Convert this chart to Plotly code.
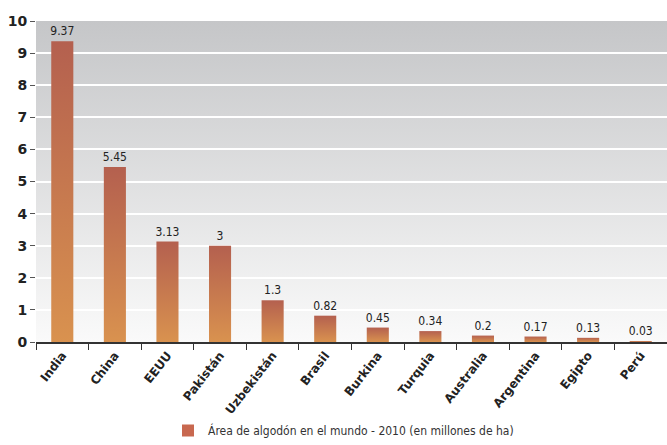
import base64

import plotly.graph_objects as go

# Área de algodón en el mundo - 2010 (millones de ha)
paises = ["India", "China", "EEUU", "Pakistán", "Uzbekistán", "Brasil",
          "Burkina", "Turquia", "Australia", "Argentina", "Egipto", "Perú"]
area = [9.37, 5.45, 3.13, 3, 1.3, 0.82, 0.45, 0.34, 0.2, 0.17, 0.13, 0.03]
etiquetas = ["9.37", "5.45", "3.13", "3", "1.3", "0.82", "0.45", "0.34",
             "0.2", "0.17", "0.13", "0.03"]

COLORS = {
    "bar_top": "#b4604f",
    "bar_bottom": "#d9924f",
    "bg_top": "#c5c6c8",
    "bg_bottom": "#fafafa",
    "text": "#222222",
    "legend": "#c8684f",
}

# vertical grey gradient behind the plot area
bg_svg = (
    '<svg xmlns="http://www.w3.org/2000/svg" width="10" height="100" preserveAspectRatio="none">'
    '<defs><linearGradient id="g" x1="0" y1="0" x2="0" y2="1">'
    f'<stop offset="0" stop-color="{COLORS["bg_top"]}"/>'
    f'<stop offset="1" stop-color="{COLORS["bg_bottom"]}"/>'
    '</linearGradient></defs><rect width="10" height="100" fill="url(#g)"/></svg>'
)
bg_uri = "data:image/svg+xml;base64," + base64.b64encode(bg_svg.encode()).decode()

NARROW = "DejaVu Sans Condensed, Liberation Sans Narrow, sans-serif"

fig = go.Figure(
    go.Bar(
        x=paises,
        y=area,
        name="Área de algodón en el mundo - 2010 (en millones de ha)",
        marker=dict(color=COLORS["legend"], line=dict(width=0)),
        text=etiquetas,
        textposition="outside",
        constraintext="none",
        cliponaxis=False,
        textfont=dict(family=NARROW, size=12, color=COLORS["text"]),
    )
)

fig.update_layout(
    width=667,
    height=445,
    margin=dict(l=36, r=0, t=21, b=103, autoexpand=False),
    paper_bgcolor="white",
    plot_bgcolor="rgba(0,0,0,0)",
    font=dict(family="DejaVu Sans, sans-serif", size=12, color=COLORS["text"]),
    bargap=0.58,
    showlegend=True,
    legend=dict(
        orientation="h",
        x=0.515, xanchor="center", xref="container",
        y=0.0, yanchor="bottom", yref="container",
        font=dict(family=NARROW, size=12, color="#333333"),
    ),
    images=[dict(
        source=bg_uri, xref="paper", yref="paper", x=0, y=1,
        sizex=1, sizey=1, sizing="stretch", layer="below",
    )],
    xaxis=dict(
        automargin=False,
        tickangle=-52,
        tickfont=dict(family="DejaVu Sans, sans-serif", size=12, color=COLORS["text"],
                      weight="bold"),
        showline=True, linecolor="#333333", linewidth=1.5,
        ticks="outside", ticklen=6, tickcolor="#333333", tickson="boundaries",
        showgrid=False,
    ),
    yaxis=dict(
        automargin=False,
        range=[0, 10],
        dtick=1,
        tickfont=dict(family="DejaVu Sans, sans-serif", size=14, color=COLORS["text"],
                      weight="bold"),
        ticks="outside", ticklen=5, tickcolor="#555555",
        showgrid=True, gridcolor="white", gridwidth=1.5,
        zeroline=False, showline=False,
    ),
)

# drop the page margin and paint an SVG gradient on the bars
post = """
document.body.style.margin = '0';
document.body.style.overflow = 'hidden';
var gd = document.getElementById('{plot_id}');
function paintBars() {
  var svg = gd.querySelector('svg.main-svg');
  if (!svg) return;
  var ns = 'http://www.w3.org/2000/svg';
  if (!document.getElementById('barGrad')) {
    var defs = svg.querySelector('defs') || svg.insertBefore(document.createElementNS(ns, 'defs'), svg.firstChild);
    var lg = document.createElementNS(ns, 'linearGradient');
    lg.setAttribute('id', 'barGrad');
    lg.setAttribute('x1', '0'); lg.setAttribute('y1', '0');
    lg.setAttribute('x2', '0'); lg.setAttribute('y2', '1');
    [['0', '%s'], ['1', '%s']].forEach(function (s) {
      var st = document.createElementNS(ns, 'stop');
      st.setAttribute('offset', s[0]);
      st.setAttribute('stop-color', s[1]);
      lg.appendChild(st);
    });
    defs.appendChild(lg);
  }
  gd.querySelectorAll('.barlayer .point path').forEach(function (p) {
    p.style.fill = 'url(#barGrad)';
  });
}
paintBars();
gd.on('plotly_afterplot', paintBars);
""" % (COLORS["bar_top"], COLORS["bar_bottom"])

fig.write_html("out.html", post_script=post, config={"displayModeBar": False})
